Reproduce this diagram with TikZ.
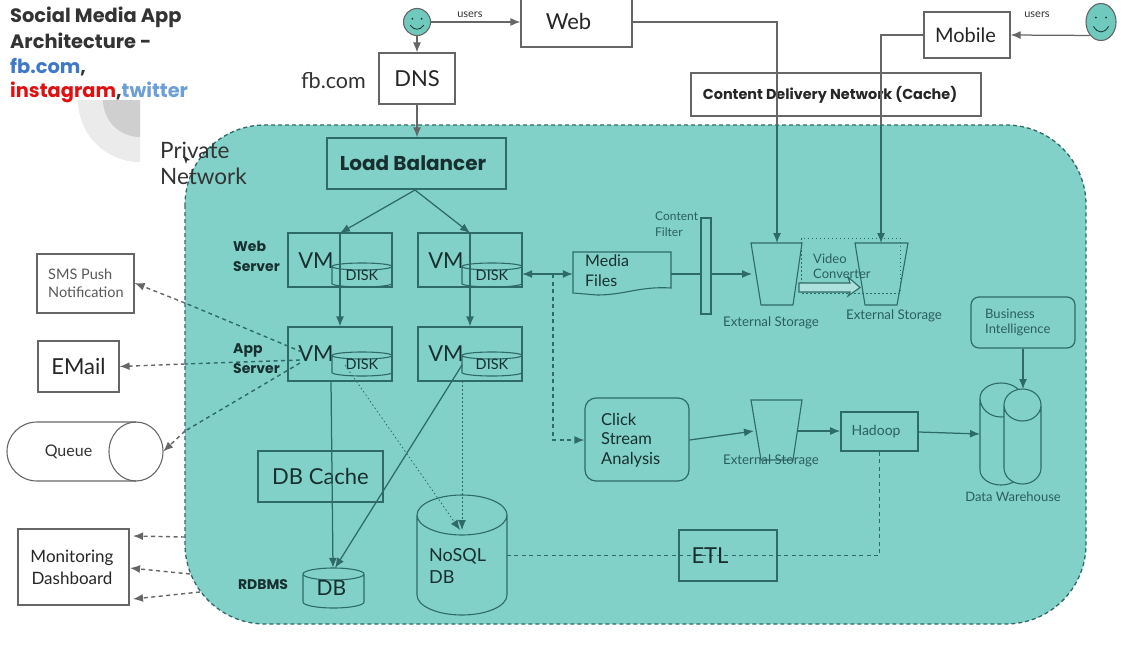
\documentclass[tikz,border=0pt]{standalone}
\usepackage{fontspec}
\setmainfont{Lato}
\newfontfamily\pop{Poppins}
\usetikzlibrary{arrows.meta,calc,shapes.geometric}
\newcommand\fs[2]{\fontsize{#1}{#2}\selectfont}
\definecolor{teal}{HTML}{82D1C9}
\definecolor{facet}{HTML}{6FC9BD}
\definecolor{edge}{HTML}{2E6A66}
\definecolor{greyline}{HTML}{666666}
\definecolor{ink}{HTML}{17302F}
\definecolor{outink}{HTML}{333333}
\definecolor{softink}{HTML}{2A5F5C}
\tikzset{
  box/.style={draw=edge,line width=1.2pt,inner sep=0pt,text=ink,align=center},
  outbox/.style={draw=greyline,line width=1.2pt,fill=white,inner sep=0pt,text=black!85,align=center},
  lab/.style={inner sep=0pt,text=ink,align=left},
  softlab/.style={inner sep=0pt,text=softink,align=left},
  outlab/.style={inner sep=0pt,text=outink,align=left},
  ghost/.style={inner sep=0pt,text=ink,align=center},
  conn/.style={draw=edge,line width=1.25pt,-{Latex[length=10pt,width=8pt]}},
  outconn/.style={draw=greyline,line width=1.25pt,-{Latex[length=10pt,width=8pt]}},
  dashconn/.style={draw=edge,line width=1.4pt,dash pattern=on 4pt off 3.5pt,-{Latex[length=10pt,width=8pt]}},
  dotconn/.style={draw=edge,line width=.8pt,dash pattern=on 1.5pt off 2.5pt},
  shapeline/.style={draw=edge,line width=1.1pt},
  heavyfont/.style={font=\pop\bfseries\fs{#1}{#1}},
}
% name, x1, y1, x2, y2 (top/bottom), ellipse ry, font, text
\newcommand\cyl[8]{%
  \path[shapeline] (#2,#3+#6) -- (#2,#5-#6)
    arc[start angle=180,end angle=0,x radius={(#4-#2)/2},y radius=#6]
    -- (#4,#3+#6)
    arc[start angle=0,end angle=-180,x radius={(#4-#2)/2},y radius=#6]
    arc[start angle=180,end angle=0,x radius={(#4-#2)/2},y radius=#6];
  \node[ghost,font=#7,minimum width={(#4-#2)*1pt},minimum height={(#5-#3)*1pt}] (#1) at ({(#2+#4)/2},{(#3+#5)/2}) {#8};
}
\newcommand\face[5]{%
  \node[draw=greyline,line width=1.1pt,fill=facet,ellipse,minimum width=#4pt,minimum height=#5pt,inner sep=0pt] (#1) at (#2,#3) {};
  \fill[ink] (#2-#4*.17,#3-#5*.12) circle (1pt) (#2+#4*.17,#3-#5*.12) circle (1pt);
  \draw[ink,line width=.8pt] (#2-#4*.25,#3+#5*.12) .. controls (#2-#4*.1,#3+#5*.32) and (#2+#4*.1,#3+#5*.32) .. (#2+#4*.25,#3+#5*.12);
}
\begin{document}
\begin{tikzpicture}[x=1pt,y=-1pt]
\useasboundingbox (0,0) rectangle (1147,645);
\fill[white] (0,0) rectangle (1147,645);
% pale quarter rings behind the title
\fill[black!8] (140,100) -- (78,100) arc[start angle=180,end angle=90,radius=62] -- cycle;
\fill[black!19] (140,100) -- (103,100) arc[start angle=180,end angle=90,radius=37] -- cycle;
% title
\node[outlab,anchor=west,heavyfont=19.4] (t1) at (10,17) {Social Media App};
\node[outlab,anchor=west,heavyfont=19.4] (t2) at (10,41) {Architecture -};
\node[outlab,anchor=west,heavyfont=19.4] (t3) at (10,67) {\textcolor[HTML]{3F78C8}{fb.com},};
\node[outlab,anchor=west,heavyfont=19.4] (t4) at (10,92) {\textcolor[HTML]{E01010}{instagram},\textcolor[HTML]{6C9ED8}{twitter}};
% private network
\path[fill=teal,draw=edge,line width=1.3pt,dash pattern=on 4pt off 3pt,rounded corners=80pt] (185,125) rectangle (1086,624);
\node[outlab,anchor=west,font=\fs{22.5}{22.5}] (pn1) at (160,150) {Private};
\node[outlab,anchor=west,font=\fs{22.5}{22.5}] (pn2) at (160,176) {Network};
\fill[outink] (183,155) -- (190,160) -- (187,160.5) -- (186,164) -- cycle;
\node[outlab,anchor=center,font=\fs{21.5}{21.5}] (fb) at (333.5,81) {fb.com};
% top row
\face{f1}{417}{22}{27}{27}
\node[outlab,font=\fs{11}{11}] (u1) at (470,15) {users};
\node[outbox,font=\fs{22}{22},minimum width=111pt,minimum height=52pt] (web) at (576.5,21) {\hspace*{-16pt}Web};
\node[outbox,font=\fs{22}{22},minimum width=76pt,minimum height=51pt] (dns) at (417,78.5) {DNS};
\node[outbox,font=\fs{20}{20},minimum width=86pt,minimum height=46pt] (mob) at (967,35) {\hspace*{-3pt}Mobile};
\node[outlab,font=\fs{11}{11}] (u2) at (1037,15) {users};
\face{f2}{1101}{22}{30}{37}
\node[outbox,heavyfont=14.4,minimum width=290pt,minimum height=43pt,fill=none] (cdn) at (836,94.5) {\hspace*{-12pt}Content Delivery Network (Cache)};
\node[box,heavyfont=20,minimum width=179pt,minimum height=51pt] (lb) at (416.5,163.5) {\hspace*{-7pt}Load Balancer};
% VM boxes
\node[box,minimum width=104pt,minimum height=54pt] (vm1) at (340,260) {};
\node[box,minimum width=104pt,minimum height=54pt] (vm2) at (470,260) {};
\node[box,minimum width=104pt,minimum height=54pt] (vm3) at (340,354) {};
\node[box,minimum width=104pt,minimum height=54pt] (vm4) at (470,354) {};
\node[lab,font=\fs{22}{22}] (vt1) at (316,261) {VM};
\node[lab,font=\fs{22}{22}] (vt2) at (446,261) {VM};
\node[lab,font=\fs{22}{22}] (vt3) at (316,354) {VM};
\node[lab,font=\fs{22}{22}] (vt4) at (446,354) {VM};
\cyl{d1}{332}{263}{392}{287}{3.5}{\fs{14.5}{14.5}}{\raisebox{-7pt}{DISK}}
\cyl{d2}{462}{263}{522}{287}{3.5}{\fs{14.5}{14.5}}{\raisebox{-7pt}{DISK}}
\cyl{d3}{332}{352}{392}{376}{3.5}{\fs{14.5}{14.5}}{\raisebox{-6pt}{DISK}}
\cyl{d4}{462}{352}{522}{376}{3.5}{\fs{14.5}{14.5}}{\raisebox{-6pt}{DISK}}
\node[lab,anchor=west,font=\pop\bfseries\fs{14}{20}] (wsv) at (233,256) {Web\\Server};
\node[lab,anchor=west,font=\pop\bfseries\fs{14}{20}] (asv) at (233,359) {App\\Server};
% external left boxes
\node[outbox,minimum width=97pt,minimum height=59pt] (sms) at (85.5,283.5) {};
\node[outlab,anchor=west,text=black!65,font=\fs{14.5}{18}] (smst) at (48,283) {SMS Push\\Notification};
\node[outbox,font=\fs{22}{22},minimum width=81pt,minimum height=51pt] (mail) at (78.5,366.5) {EMail};
% queue
\node[inner sep=0pt,minimum width=156pt,minimum height=59pt] (q) at (85,451.5) {};
\path[draw=greyline,line width=1.1pt,fill=white] (37,422) -- (136,422) arc[start angle=-90,end angle=90,x radius=27,y radius=29.5] -- (37,481) arc[start angle=90,end angle=270,x radius=30,y radius=29.5] -- cycle;
\draw[greyline,line width=1.1pt] (136,422) arc[start angle=-90,end angle=-270,x radius=27,y radius=29.5];
\node[outlab,font=\fs{16}{16}] (qt) at (68.5,452) {Queue};
\node[outbox,font=\fs{17}{22},minimum width=111pt,minimum height=76pt] (mon) at (73.5,567) {\hspace*{-3pt}Monitoring\\\hspace*{-3pt}Dashboard};
% db layer
\node[box,font=\fs{22}{22},minimum width=125pt,minimum height=51pt] (cache) at (320.5,476.5) {DB Cache};
\cyl{db}{303}{568}{364}{608}{6}{\fs{21}{21}}{\hspace*{-4pt}\raisebox{-9pt}{DB}}
\node[lab,font=\pop\bfseries\fs{14}{14}] (rdb) at (263,585) {RDBMS};
\cyl{nosql}{417}{495}{507}{615}{20}{\fs{17}{25}}{}
\node[lab,anchor=west,font=\fs{18}{22}] (nosqlt) at (429,566) {NoSQL\\DB};
% media
\path[shapeline] (573,252) -- (671,252) -- (671,288) .. controls (640,286) and (625,295) .. (597,295) -- (573,293) -- cycle;
\node[inner sep=0pt,minimum width=98pt,minimum height=43pt] (media) at (622,273.5) {};
\node[lab,anchor=west,font=\fs{16}{20}] (mediat) at (585,270.5) {Media\\Files};
\node[box,minimum width=10pt,minimum height=96pt] (filter) at (706,266) {};
\node[softlab,anchor=west,font=\fs{12}{16}] (filtert) at (655,224) {Content\\Filter};
% storages
\path[shapeline] (751,243) -- (802,243) -- (793,305) -- (761,305) -- cycle;
\node[inner sep=0pt,minimum width=51pt,minimum height=62pt] (es1) at (776.5,274) {};
\path[shapeline] (855,243) -- (908,243) -- (897,305) -- (865,305) -- cycle;
\node[inner sep=0pt,minimum width=53pt,minimum height=62pt] (es2) at (881.5,274) {};
\path[shapeline] (751,400) -- (802,400) -- (793,460) -- (761,460) -- cycle;
\node[inner sep=0pt,minimum width=51pt,minimum height=61pt] (es3) at (776.5,431) {};
\node[softlab,font=\fs{13.3}{13.3}] (es1t) at (771,323) {External Storage};
\node[softlab,font=\fs{13.3}{13.3}] (es2t) at (894,316) {External Storage};
\node[softlab,font=\fs{13.3}{13.3}] (es3t) at (771,461) {External Storage};
\path[dotconn] (801,238) rectangle (900,293);
\node[softlab,anchor=west,font=\fs{13}{15}] (vct) at (813,266.5) {Video\\Converter};
\path[draw=edge,line width=1.1pt,fill=white!35!teal] (799,283) -- (850,283) -- (848,277) -- (860,287.5) -- (848,296) -- (850,292) -- (799,292) -- cycle;
% analysis row
\node[box,rounded corners=11pt,minimum width=104pt,minimum height=83pt] (click) at (637,439.5) {};
\node[lab,anchor=west,font=\fs{16.5}{19.5}] (clickt) at (601,440) {Click\\Stream\\Analysis};
\node[box,line width=1.7pt,minimum width=77pt,minimum height=39pt] (hadoop) at (879.5,431.5) {};
\node[softlab,font=\fs{14}{14}] (hadoopt) at (876,432) {Hadoop};
\node[box,minimum width=98pt,minimum height=51pt] (etl) at (728,555.5) {};
% warehouse
\path[shapeline,fill=teal] (980,398) -- (980,470) arc[start angle=180,end angle=0,x radius=21,y radius=15] -- (1022,398) arc[start angle=0,end angle=-180,x radius=21,y radius=15] arc[start angle=180,end angle=0,x radius=21,y radius=19];
\path[shapeline,fill=teal] (1004,405) -- (1004,468) arc[start angle=180,end angle=0,x radius=18.5,y radius=16] -- (1041,405) arc[start angle=0,end angle=-180,x radius=18.5,y radius=16] arc[start angle=180,end angle=0,x radius=18.5,y radius=16];
\node[inner sep=0pt,minimum width=61pt,minimum height=101pt] (dw) at (1010.5,434) {};
\node[softlab,font=\fs{13}{13}] (dwt) at (1013,497) {Data Warehouse};
\node[box,rounded corners=8pt,minimum width=104pt,minimum height=51pt] (bi) at (1023,322.5) {};
\node[softlab,anchor=west,font=\fs{13}{15.5}] (bit) at (985,322.5) {Business\\Intelligence};
% connectors
\coordinate (lbs) at (415,190);
\coordinate (n1) at (340,233);
\coordinate (n2) at (470,233);
\coordinate (app1) at (302,352);
\coordinate (app2) at (300,360);
\coordinate (app3) at (300,363);
\coordinate (app4) at (462,365);
\draw[outconn] (f1) -- (f1 |- dns.north);
\draw[outconn] (f1) ++(13.5,0) -- (web.west |- f1);
\draw[greyline,line width=1.1pt] (web.east |- f1) -- (777,22) -- (777,125);
\draw[conn] (777,125) -- (777,243);
\draw[outconn] (f2.south west) -- (mob.east);
\draw[greyline,line width=1.1pt] (mob.west) -- (881,35) -- (881,125);
\draw[conn] (881,125) -- (881,243);
\draw[outconn] (dns.south -| f1) -- (f1 |- lb.north);
\draw[conn] (lbs) -- (n1);
\draw[conn] (lbs) -- (n2);
\draw[conn] (n1) -- (n1 |- vm3.north);
\draw[conn] (n2) -- (n2 |- vm4.north);
\draw[dashconn,-] (app1) -- (185,303);
\draw[dashconn,draw=greyline] (185,303) -- (sms.east |- 0,283);
\draw[dashconn,-] (app2) -- (185,364);
\draw[dashconn,draw=greyline] (185,364) -- (mail.east);
\draw[dashconn,-] (app3) -- (185,431);
\draw[dashconn,draw=greyline] (185,431) -- (q.east);
\draw[dashconn,draw=greyline] (185,537) -- (133,536);
\draw[dashconn,draw=greyline] (190,574) -- (130,568);
\draw[dashconn,draw=greyline] (200,592) -- (133,599);
\draw[conn] (331,381) -- (db.north -| 333,0);
\draw[conn] (app4) -- (335,568);
\draw[dotconn,-{Latex[length=10pt,width=8pt]}] (345,365) -- (460,530);
\draw[dotconn,-{Latex[length=10pt,width=8pt]}] (462,381) -- (462,530);
\draw[conn,{Latex[length=10pt,width=8pt]}-{Latex[length=10pt,width=8pt]}] (d2.east |- 0,274) -- (media.west |- 0,274);
\draw[dashconn] (553,274) -- (553,440) -- (click.west |- 0,440);
\draw[shapeline] (media.east |- 0,274) -- (filter.west |- 0,274);
\draw[conn] (filter.east |- 0,274) -- (752,274);
\draw[conn] (click.east |- 0,440) -- (754,431);
\draw[conn] (798,431) -- (hadoop.west |- 0,431);
\draw[conn] (hadoop.east |- 0,432) -- (980,434);
\draw[conn] (bi.south) -- (1023,389);
\draw[dashconn,-] (hadoop.south) -- (hadoop.south |- etl) -- (nosql.east |- etl);
\node[lab,font=\fs{22}{22}] (etlt) at (710,556) {ETL};
\end{tikzpicture}
\end{document}
